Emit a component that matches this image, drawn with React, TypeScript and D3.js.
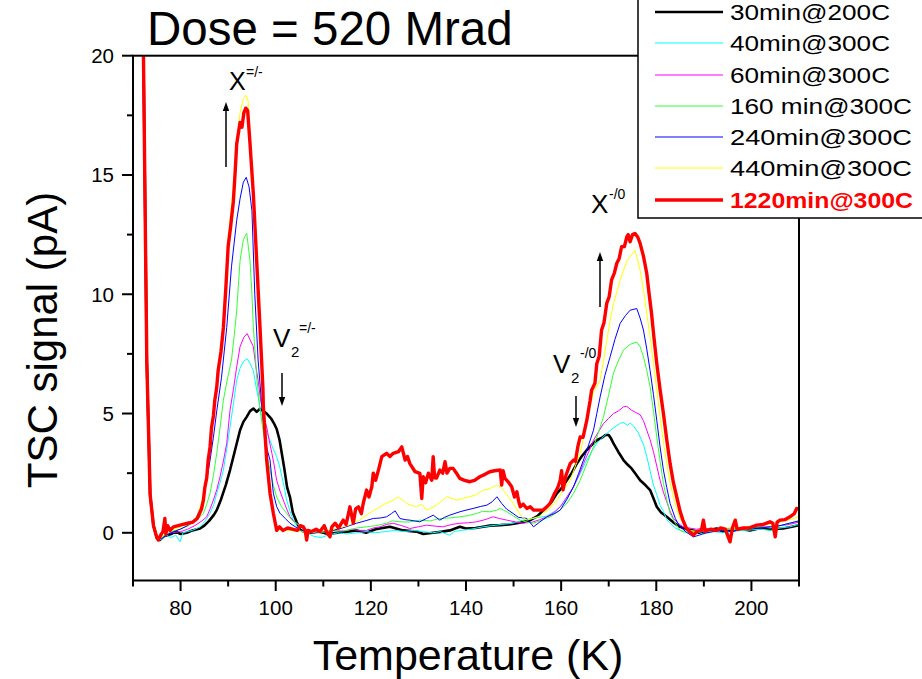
import React from "react";
import * as d3 from "d3";

// ---------- data ----------
const seriesNames = [
  "30min@200C",
  "40min@300C",
  "60min@300C",
  "160 min@300C",
  "240min@300C",
  "440min@300C",
  "1220min@300C",
];
const seriesColors = ["#000000", "#00FFFF", "#FF00FF", "#33FF33", "#0000FF", "#FFFF00", "#FF0000"];
const seriesWidths = [2.6, 1, 1, 1, 1, 1, 3.4];

const startSeg: [number, number][] = [[71, 42], [72.2, 20], [72.9, 7.2], [73.6, 1.6], [74.3, 0.3]];

const black30: [number, number][] = [...startSeg,
  [75, -0.2], [75.6, -0.3], [76.5, -0.15], [78, -0.05], [79, 0.05], [80, -0.05], [81.3, 0], [82.5, 0.1], [84.1, 0.18], [85, 0.3], [86, 0.5], [87, 0.75], [87.6, 0.95], [88.5, 1.4], [89.5, 2.0], [90.4, 2.63], [91.5, 3.5], [92.5, 4.3], [93.2, 4.65], [93.9, 4.86], [94.6, 5.1], [95.3, 5.21], [96, 5.07], [96.7, 5.2], [97.4, 5.1], [98.1, 5.0], [99, 4.8], [99.6, 4.6], [100.2, 4.35], [100.8, 3.9], [101.3, 3.3], [101.8, 2.7], [102.4, 1.9], [103, 1.5], [103.6, 0.85], [104.4, 0.45], [105.1, 0.15], [105.8, 0.05], [107, 0.0], [109, 0.05], [111, -0.05], [113, 0.0], [115, 0.05], [117, 0.1], [119, 0.0], [121, 0.15], [124, 0.25], [126.8, 0.1], [129.6, 0.05], [131, -0.05], [133.1, 0.0], [135, 0.05], [136.6, 0.1], [138.7, 0.25], [140, 0.18], [142, 0.2], [143.6, 0.25], [145, 0.3], [147.2, 0.32], [149, 0.35], [150.7, 0.4], [152, 0.45], [153.5, 0.53], [155, 0.7], [157, 1.09], [158, 1.3], [159.1, 1.65], [160, 1.85], [161.2, 2.2], [162.2, 2.5], [163.3, 2.9], [164.3, 3.2], [165.4, 3.47], [166.5, 3.7], [167.5, 3.88], [168.7, 4.0], [169.3, 4.1], [170, 4.1], [170.5, 3.95], [171, 3.75], [172, 3.4], [173.1, 3.05], [174, 2.85], [174.8, 2.7], [175.7, 2.45], [176.6, 2.2], [177.7, 2.0], [178.7, 1.79], [179.4, 1.45], [180.1, 1.09], [181, 0.85], [182.2, 0.67], [183.5, 0.45], [185, 0.25], [186.5, 0.15], [187.8, 0.1], [189, 0.0], [190.5, 0.1], [192.7, 0.18], [194, 0.05], [196, 0.12], [198, 0.15], [199.7, 0.1], [202, 0.2], [204, 0.15], [206.7, 0.18], [208.5, 0.25], [210, 0.32]];

const cyan40: [number, number][] = [...startSeg,
  [75, -0.2], [76, -0.3], [77, -0.1], [78, -0.2], [79, -0.1], [79.9, -0.38], [80.5, 0.0], [81.5, 0.05], [82.5, 0.1], [84.1, 0.25], [85.2, 0.5], [86.2, 0.82], [87, 1.2], [87.6, 1.65], [88.3, 2.1], [89, 2.63], [89.7, 3.5], [90.4, 4.44], [91.1, 5.4], [91.8, 6.4], [92.5, 6.9], [93.3, 7.2], [94, 7.3], [94.6, 7.1], [95.3, 6.8], [95.8, 6.2], [96.3, 5.7], [96.8, 5.1], [97.4, 4.72], [98.1, 4.2], [98.8, 3.88], [99.5, 3.5], [100.2, 3.19], [100.8, 2.8], [101.3, 2.35], [101.8, 1.9], [102.3, 1.37], [103, 0.9], [103.7, 0.53], [104.5, 0.25], [105.2, 0.1], [106.5, 0.0], [108, -0.15], [109.5, -0.2], [111, -0.1], [113, 0.0], [115, -0.05], [117, 0.0], [119, 0.05], [121, 0.0], [123, 0.05], [125, 0.1], [127, 0.05], [129, 0.1], [131, 0.05], [133, 0.0], [134.5, 0.05], [136.6, -0.1], [137.5, 0.05], [139, 0.1], [141, 0.15], [143.6, 0.25], [145.5, 0.3], [147.5, 0.35], [149.9, 0.4], [152, 0.53], [154, 0.6], [157, 0.7], [159, 0.95], [160.5, 1.23], [162, 1.7], [163.3, 2.2], [164.4, 2.65], [165.4, 3.05], [166.5, 3.45], [167.5, 3.75], [168.5, 3.95], [169.6, 4.16], [170.7, 4.35], [171.7, 4.5], [172.5, 4.6], [173.1, 4.62], [174, 4.5], [174.5, 4.6], [175.2, 4.48], [176.2, 4.2], [177.3, 3.7], [178, 3.2], [178.7, 2.6], [179.4, 2.0], [180.1, 1.6], [180.8, 1.15], [181.5, 0.9], [182.2, 0.55], [182.9, 0.4], [184, 0.2], [185.6, 0.05], [187, 0.0], [188.5, 0.05], [190, -0.05], [192, 0.05], [194, 0.0], [195.2, 0.05], [195.5, -0.4], [195.8, 0.05], [198, 0.1], [200, 0.12], [202, 0.15], [204, 0.1], [206, 0.2], [208, 0.25], [210, 0.35]];

const magenta60: [number, number][] = [...startSeg,
  [75, -0.2], [76, -0.25], [77, -0.1], [78, 0.0], [80, 0.05], [81.5, 0.15], [83, 0.3], [84.5, 0.5], [85.5, 0.67], [86.2, 1.0], [86.9, 1.37], [87.6, 1.8], [88.3, 2.35], [89, 3.0], [89.7, 3.75], [90.4, 5.14], [91.1, 6.0], [91.8, 6.96], [92.5, 7.8], [93.3, 8.2], [94, 8.35], [94.6, 8.1], [95.3, 7.8], [95.8, 7.0], [96.3, 6.4], [96.8, 5.6], [97.4, 4.9], [98.1, 4.44], [98.6, 3.9], [99.2, 3.33], [99.7, 2.8], [100.2, 2.2], [100.9, 1.75], [101.6, 1.37], [102.3, 1.0], [103, 0.67], [104, 0.45], [105.1, 0.3], [106.5, 0.1], [108, 0.0], [110, 0.05], [112, 0.1], [114, 0.05], [116, 0.15], [117.5, 0.1], [119.1, 0.1], [120.5, 0.2], [121.9, 0.25], [123.3, 0.35], [124.7, 0.4], [126.5, 0.3], [128.2, 0.18], [130, 0.25], [131.7, 0.32], [133.5, 0.28], [135.2, 0.25], [137, 0.35], [138.7, 0.4], [140.5, 0.42], [142.2, 0.46], [144, 0.55], [145.7, 0.67], [147, 0.6], [148.6, 0.53], [150.5, 0.45], [152, 0.4], [154, 0.45], [155.5, 0.55], [157, 0.67], [158.5, 0.85], [159.8, 1.09], [161.2, 1.5], [162.6, 1.93], [163.7, 2.4], [164.7, 2.9], [165.8, 3.4], [166.8, 3.88], [167.9, 4.25], [168.9, 4.58], [170, 4.8], [171, 5.0], [172, 5.1], [173.1, 5.28], [173.8, 5.3], [174.8, 5.14], [175.6, 5.05], [176.6, 4.95], [177.3, 4.7], [178, 4.3], [178.7, 3.9], [179.4, 3.4], [180.1, 2.8], [180.8, 2.2], [181.5, 1.7], [182.2, 1.3], [182.9, 0.9], [183.6, 0.6], [184.6, 0.4], [185.6, 0.25], [187, 0.2], [188.5, 0.15], [190, 0.2], [192, 0.1], [194, 0.15], [196, 0.2], [198, 0.15], [200, 0.2], [202, 0.25], [204, 0.25], [206, 0.3], [208, 0.35], [210, 0.45]];

const green160: [number, number][] = [...startSeg,
  [75, -0.2], [76, -0.25], [77, -0.05], [78, 0.05], [80, 0.15], [82, 0.35], [83.5, 0.55], [84.8, 0.82], [85.5, 1.2], [86.2, 1.66], [86.9, 2.4], [87.6, 3.33], [88.3, 4.4], [89, 5.56], [89.8, 6.4], [90.7, 7.24], [91.3, 8.3], [91.8, 9.33], [92.5, 11.4], [93.2, 12.3], [93.9, 12.56], [94.6, 11.4], [95, 10.0], [95.3, 8.6], [95.7, 7.5], [96, 6.5], [96.7, 5.2], [97.4, 4.2], [98.1, 3.3], [98.8, 2.63], [99.5, 2.0], [100.2, 1.5], [101.2, 1.1], [102.3, 0.82], [103.3, 0.55], [104.4, 0.4], [105.5, 0.2], [107, 0.05], [109, 0.0], [111, 0.05], [113, 0.1], [115, 0.1], [117, 0.2], [119.1, 0.25], [121, 0.3], [123.3, 0.4], [124.5, 0.5], [126.1, 0.46], [128, 0.45], [130.3, 0.53], [132.5, 0.5], [134.5, 0.6], [136.5, 0.62], [138.7, 0.67], [140.5, 0.72], [142.2, 0.81], [143.5, 0.9], [145, 0.88], [146.5, 0.95], [147.2, 1.02], [148.6, 0.88], [150, 0.7], [151.4, 0.53], [152.8, 0.45], [154.1, 0.4], [155.5, 0.5], [157.7, 0.67], [159.5, 0.9], [161.2, 1.23], [162.6, 1.65], [164, 2.2], [165.4, 2.9], [166.8, 3.6], [168, 4.3], [168.9, 4.86], [170, 5.8], [171, 6.7], [172, 7.2], [173.1, 7.66], [174.5, 7.9], [175.9, 8.0], [176.6, 7.8], [177.3, 7.38], [178, 6.8], [178.7, 6.12], [179.4, 5.1], [180.1, 4.02], [180.8, 3.0], [181.5, 2.07], [182.2, 1.4], [182.9, 0.81], [184, 0.4], [185, 0.1], [186.5, 0.0], [188, 0.05], [190, 0.1], [192, 0.05], [194, 0.1], [196, 0.15], [198, 0.1], [200, 0.2], [202, 0.25], [204, 0.2], [206, 0.3], [208, 0.4], [210, 0.5]];

const blue240: [number, number][] = [...startSeg,
  [75, -0.2], [76, -0.25], [77, -0.1], [78, 0.0], [79.9, 0.15], [81.5, 0.3], [83.4, 0.67], [84.8, 1.37], [85.5, 2.2], [86.2, 3.05], [86.9, 4.0], [87.6, 5.1], [88.6, 6.5], [89.7, 8.6], [90.7, 11.15], [91.8, 13.1], [92.5, 14.0], [93.2, 14.7], [93.8, 14.9], [94.4, 14.5], [95, 13.5], [95.6, 10.0], [96.3, 7.24], [97, 5.5], [97.6, 4.2], [98.2, 3.5], [98.8, 3.05], [99.5, 1.66], [100.2, 1.1], [100.9, 0.82], [102, 0.6], [103, 0.4], [104.5, 0.2], [106, 0.05], [108, 0.0], [110, 0.05], [112, 0.1], [114, 0.2], [115.5, 0.3], [117, 0.4], [118.8, 0.5], [120.5, 0.6], [122, 0.62], [123.3, 0.67], [124.3, 0.8], [125.1, 0.92], [126.1, 0.6], [127.2, 0.55], [128.2, 0.53], [130.3, 0.46], [131.7, 0.6], [133.1, 0.74], [134.5, 0.53], [135.5, 0.65], [136.6, 0.74], [138.7, 0.88], [140, 0.95], [141.5, 1.02], [143, 1.1], [144.4, 1.16], [145.5, 1.3], [146.5, 1.51], [147.5, 1.23], [148.5, 1.0], [149.9, 0.81], [151, 0.65], [152.8, 0.6], [154.2, 0.25], [155.5, 0.45], [157, 0.67], [158.5, 0.8], [159.8, 0.95], [161.2, 1.4], [162.6, 1.93], [163.7, 2.5], [164.7, 3.05], [165.8, 3.7], [166.8, 4.3], [167.5, 5.0], [168.2, 5.7], [169.2, 6.6], [170.3, 7.38], [171.3, 8.1], [172.4, 8.78], [173.5, 9.1], [174.5, 9.33], [175.9, 9.4], [176.6, 9.0], [177.3, 8.5], [178, 7.7], [178.7, 6.8], [179.4, 5.8], [180.1, 4.72], [180.8, 3.6], [181.5, 2.63], [182.2, 1.9], [182.9, 1.23], [184, 0.6], [185, 0.25], [186.5, 0.0], [187.8, -0.17], [189, -0.1], [190.5, 0.0], [192, 0.05], [194, 0.1], [196, 0.05], [198, 0.15], [200, 0.2], [202, 0.2], [204, 0.25], [206, 0.3], [208, 0.4], [210, 0.5]];

const yellow440: [number, number][] = [...startSeg,
  [75, -0.2], [76, -0.2], [77, 0.0], [78, 0.1], [80, 0.25], [82, 0.4], [83.5, 0.7], [84.3, 1.2], [85, 1.9], [85.7, 2.8], [86.4, 4.2], [87.2, 5.5], [87.8, 6.9], [88.5, 7.8], [89, 8.8], [90, 12.3], [91, 14.3], [91.8, 16.5], [92.5, 17.6], [93.2, 18.2], [93.7, 18.35], [94.2, 18.1], [94.6, 16.8], [95.3, 14.5], [96, 11.6], [96.7, 8.7], [97.3, 6.3], [98, 3.5], [98.7, 1.8], [99.4, 0.9], [100.2, 0.3], [101, 0.1], [103, 0.1], [105, 0.05], [107, 0.0], [109, 0.05], [111, 0.1], [113, 0.2], [115, 0.3], [117.7, 0.53], [119.5, 0.8], [121.9, 1.09], [123.3, 1.25], [124.7, 1.37], [125.7, 1.5], [126.5, 1.4], [127.5, 1.23], [128.5, 1.15], [129.6, 1.09], [130.7, 1.2], [131.7, 0.95], [132.8, 1.05], [133.8, 1.16], [135, 1.35], [135.9, 1.51], [137, 1.45], [138, 1.37], [139.5, 1.45], [140.8, 1.51], [142.2, 1.6], [143.6, 1.79], [145, 1.85], [146.5, 2.0], [147.3, 1.9], [147.8, 1.79], [148.6, 1.6], [149.9, 1.23], [150.8, 0.95], [151.7, 0.67], [152.8, 0.53], [154, 0.6], [155.6, 0.7], [156.2, 0.82], [157.5, 1.0], [159.1, 1.37], [160.5, 1.8], [161.9, 2.2], [163, 2.8], [164, 3.33], [164.7, 4.0], [165.4, 4.7], [166.1, 5.3], [166.8, 5.9], [168.2, 6.4], [168.9, 7.2], [169.6, 8.07], [170.3, 8.9], [171, 9.6], [171.7, 10.1], [172.4, 10.6], [173.1, 11.0], [173.8, 11.4], [174.6, 11.6], [175.5, 11.85], [176, 11.5], [176.6, 11.0], [177.3, 10.2], [178, 9.2], [178.7, 8.2], [179.4, 7.1], [180.1, 6.0], [180.8, 4.86], [181.5, 3.8], [182.2, 2.9], [182.9, 2.1], [183.6, 1.5], [184.3, 1.0], [185, 0.6], [186, 0.3], [187, 0.1], [189, 0.05], [191, 0.1], [193, 0.15], [195, 0.2], [197, 0.2], [199, 0.25], [201, 0.3], [203, 0.35], [205, 0.4], [207, 0.5], [209, 0.6], [210, 0.7]];

const red1220: [number, number][] = [...startSeg,
  [75, -0.2], [75.3, -0.3], [75.8, -0.1], [76.3, 0.05], [76.7, 0.6], [76.9, -0.05], [77.3, 0.3], [77.8, 0.1], [78.5, 0.25], [79.5, 0.3], [80.5, 0.35], [81.5, 0.4], [82.6, 0.45], [83.5, 0.6], [84.4, 1.0], [84.8, 1.37], [85.1, 1.9], [85.5, 2.3], [85.8, 3.05], [86.2, 3.6], [86.5, 4.4], [86.9, 4.9], [87.2, 5.56], [87.6, 6.1], [87.9, 6.8], [88.5, 7.6], [89, 8.6], [89.5, 10.2], [90, 12.0], [90.5, 12.8], [91.1, 13.9], [91.5, 15.2], [91.8, 16.3], [92.5, 17.2], [92.9, 17.0], [93.3, 17.6], [93.7, 17.8], [94.1, 17.7], [94.6, 16.3], [95.3, 14.2], [96, 11.4], [96.7, 8.6], [97.3, 6.1], [97.4, 5.3], [98.1, 3.05], [98.8, 1.66], [99.5, 0.82], [100.2, 0.1], [100.8, 0.25], [101.5, 0.1], [102.5, 0.2], [103.5, 0.15], [104.5, 0.1], [105.2, 0.3], [105.8, 0.25], [106.2, 0.1], [106.5, -0.3], [106.8, 0.1], [107.5, 0.05], [108.5, 0.15], [109.3, 0.05], [110.2, 0.3], [110.8, 0.0], [111.4, -0.17], [111.8, 0.25], [112.5, 0.4], [113.2, 0.2], [114.2, 0.53], [114.8, 0.35], [115.6, 1.09], [116, 0.7], [116.3, 0.4], [116.8, 1.0], [117.4, 1.09], [118, 0.8], [118.4, 1.24], [119.1, 1.79], [119.6, 1.5], [120.2, 1.93], [120.5, 2.5], [121, 2.2], [121.6, 2.63], [122.3, 3.19], [123.3, 3.33], [124, 3.2], [124.7, 3.33], [125.8, 3.4], [126.5, 3.6], [127.2, 3.05], [127.7, 3.2], [128.2, 2.9], [129.3, 2.56], [130.3, 2.49], [130.7, 1.44], [131, 2.35], [131.5, 2.1], [132.1, 2.5], [132.8, 2.2], [133.1, 3.19], [133.4, 2.3], [133.8, 2.29], [134.5, 2.63], [135.1, 2.5], [135.6, 2.98], [136, 2.5], [136.6, 2.7], [137.3, 2.7], [138, 2.5], [138.7, 2.28], [139.7, 2.2], [140.8, 2.14], [141.8, 2.2], [142.9, 2.35], [144, 2.45], [145, 2.56], [146, 2.6], [147.2, 2.63], [147.5, 2.0], [147.8, 2.6], [148.2, 2.28], [149, 2.1], [149.6, 1.93], [150.2, 1.5], [150.7, 1.72], [151.1, 1.3], [151.4, 1.09], [152, 1.2], [152.8, 1.02], [153.5, 1.09], [154.2, 0.95], [154.9, 0.95], [156.2, 0.95], [157, 1.09], [157.7, 1.24], [158.5, 1.6], [159.3, 1.9], [159.8, 2.2], [160.1, 2.6], [160.4, 1.8], [161, 2.4], [161.9, 2.9], [162.6, 3.05], [163, 3.0], [163.5, 3.6], [164, 4.02], [164.6, 4.0], [165.4, 4.72], [166.1, 5.56], [166.4, 5.98], [167.1, 6.27], [167.5, 7.1], [168, 7.4], [168.5, 8.5], [169, 8.8], [169.6, 9.63], [170.1, 9.9], [170.6, 10.6], [171.2, 10.9], [171.7, 11.3], [172.2, 11.5], [172.7, 11.99], [173.3, 12.0], [173.8, 12.4], [174.1, 12.5], [174.5, 12.2], [175, 12.5], [175.5, 12.55], [176.1, 12.4], [176.6, 12.13], [177.3, 11.6], [178, 10.87], [178.5, 10.0], [179, 9.2], [179.5, 8.2], [180.1, 7.1], [180.8, 6.0], [181.5, 5.0], [182.2, 3.9], [182.9, 2.9], [183.6, 2.1], [184.3, 1.5], [185, 0.9], [185.6, 0.53], [186.3, 0.2], [187, 0.05], [187.8, -0.1], [188.5, 0.05], [189.5, 0.1], [189.9, 0.53], [190.3, 0.05], [190.6, 0.1], [191.5, 0.15], [192.7, 0.1], [193.5, 0.2], [194.5, 0.15], [195.5, -0.38], [196, 0.2], [196.6, 0.53], [197, 0.15], [198.3, 0.2], [199.5, 0.2], [201.1, 0.32], [202.5, 0.35], [203.9, 0.46], [204.5, 0.4], [205, -0.17], [205.4, 0.45], [206, 0.53], [207, 0.55], [208.1, 0.67], [209, 0.8], [209.5, 1.02], [210, 1.0]];

const allSeries = [black30, cyan40, magenta60, green160, blue240, yellow440, red1220];

const xMajorTicks = [80, 100, 120, 140, 160, 180, 200];
const xMinorTicks = [70, 90, 110, 130, 150, 170, 190, 210];
const yMajorTicks = [0, 5, 10, 15, 20];
const yMinorTicks = [2.5, 7.5, 12.5, 17.5];

const FONT = "'Liberation Sans', Arial, Helvetica, sans-serif";

const Arrow = ({ x, y1, y2 }: { x: number; y1: number; y2: number }) => {
  const dir = y2 < y1 ? 1 : -1;
  const headLen = 9;
  const headW = 3.2;
  return (
    <g>
      <line x1={x} x2={x} y1={y1} y2={y2 + dir * headLen * 0.8} stroke="#000" strokeWidth={1.5} />
      <path d={`M${x},${y2} L${x - headW},${y2 + dir * headLen} L${x + headW},${y2 + dir * headLen} Z`} fill="#000" />
    </g>
  );
};

export default function App() {
  const W = 922, H = 679;
  const x = d3.scaleLinear().domain([70, 210]).range([133, 799]);
  const y = d3.scaleLinear().domain([-2, 20]).range([580.5, 55.7]);
  const line = d3.line<[number, number]>().x(d => x(d[0])).y(d => y(d[1]));

  const legendRows = [12, 43, 75, 106, 137, 168, 200];
  const legendLens = [160, 160, 160, 182, 182, 182, 183];

  return (
    <svg width={W} height={H} style={{ position: "absolute", left: 0, top: 0, background: "#fff" }} fontFamily={FONT}>
      <defs>
        <clipPath id="plot">
          <rect x={133} y={55.7} width={666} height={524.8} />
        </clipPath>
      </defs>
      <rect x={0} y={0} width={W} height={H} fill="#fff" />

      <g clipPath="url(#plot)">
        {allSeries.map((s, i) => (
          <path key={i} d={line(s) || ""} fill="none" stroke={seriesColors[i]} strokeWidth={seriesWidths[i]} strokeLinejoin="round" />
        ))}
      </g>

      <rect x={133} y={55.7} width={666} height={524.8} fill="none" stroke="#000" strokeWidth={2} />

      {xMajorTicks.map(t => (
        <g key={"xm" + t}>
          <line x1={x(t)} x2={x(t)} y1={580.5} y2={591} stroke="#000" strokeWidth={2} />
          <text x={x(t)} y={615} textAnchor="middle" fontSize={20.5}>{t}</text>
        </g>
      ))}
      {xMinorTicks.map(t => (
        <line key={"xn" + t} x1={x(t)} x2={x(t)} y1={580.5} y2={586.5} stroke="#000" strokeWidth={2} />
      ))}
      {yMajorTicks.map(t => (
        <g key={"ym" + t}>
          <line x1={122} x2={133} y1={y(t)} y2={y(t)} stroke="#000" strokeWidth={2} />
          <text x={114} y={y(t) + 7.5} textAnchor="end" fontSize={20.5}>{t}</text>
        </g>
      ))}
      {yMinorTicks.map(t => (
        <line key={"yn" + t} x1={127} x2={133} y1={y(t)} y2={y(t)} stroke="#000" strokeWidth={2} />
      ))}

      <text x={468} y={670} textAnchor="middle" fontSize={43}>Temperature (K)</text>
      <text transform="translate(57,340) rotate(-90)" textAnchor="middle" fontSize={42}>TSC signal (pA)</text>

      <text x={147} y={45} fontSize={47.5}>Dose = 520 Mrad</text>

      <text x={229} y={90} fontSize={25}>X</text>
      <text x={246} y={77} fontSize={14}>=/-</text>
      <Arrow x={226} y1={167} y2={102} />

      <text x={273} y={347} fontSize={26}>V</text>
      <text x={291} y={357} fontSize={15}>2</text>
      <text x={299} y={333} fontSize={14}>=/-</text>
      <Arrow x={282} y1={373} y2={406} />

      <text x={591} y={213} fontSize={26}>X</text>
      <text x={609} y={199} fontSize={14}>-/0</text>
      <Arrow x={600} y1={307} y2={252} />

      <text x={553} y={373} fontSize={26}>V</text>
      <text x={571} y={383} fontSize={15}>2</text>
      <text x={580} y={358} fontSize={14}>-/0</text>
      <Arrow x={576} y1={396} y2={427} />

      <rect x={638} y={-2} width={300} height={220} fill="#fff" stroke="#000" strokeWidth={1.5} />
      {seriesNames.map((n, i) => (
        <g key={n}>
          <line x1={655} x2={723} y1={legendRows[i]} y2={legendRows[i]} stroke={seriesColors[i]} strokeWidth={seriesWidths[i] === 1 ? 1 : seriesWidths[i]} />
          <text x={730} y={legendRows[i] + 7.5} fontSize={21.5} fill={i === 6 ? "#FF0000" : "#000"} fontWeight={i === 6 ? "bold" : "normal"}
            textLength={legendLens[i]} lengthAdjust="spacingAndGlyphs">{n}</text>
        </g>
      ))}
    </svg>
  );
}
